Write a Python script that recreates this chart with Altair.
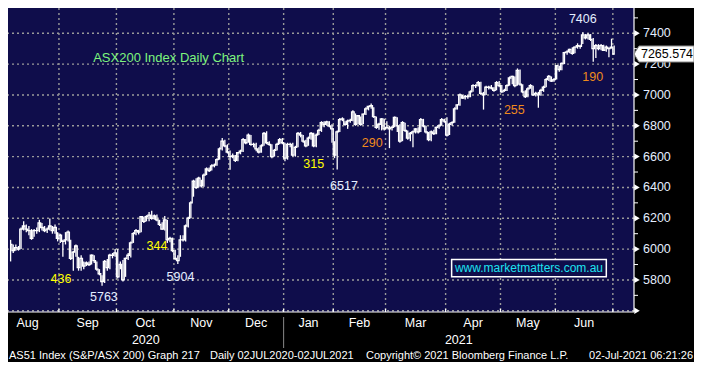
import altair as alt
import pandas as pd

# ---- daily OHLC bars (close, high, low), by month ----
months = ["Aug", "Sep", "Oct", "Nov", "Dec", "Jan", "Feb", "Mar", "Apr", "May", "Jun", "Jul"]

aug_c = [6030, 5990, 6010, 6000, 6130, 6150, 6130, 6120, 6070, 6120, 6120, 6170, 6140, 6120, 6130, 6150, 6120, 6140, 6070]
aug_h = [6060, 6030, 6030, 6020, 6140, 6180, 6160, 6150, 6130, 6130, 6140, 6190, 6170, 6150, 6140, 6199, 6150, 6160, 6110]
aug_l = [5920, 5975, 5990, 5990, 6000, 6120, 6110, 6090, 6060, 6080, 6100, 6110, 6120, 6110, 6105, 6120, 6100, 6100, 6050]

sep_c = [6090, 6050, 6060, 6110, 5940, 5980, 6020, 5880, 5940, 5890, 5910, 5900, 5960, 5925, 5870, 5840, 5790, 5920, 5880, 5960, 5960, 5975]
sep_h = [6100, 6060, 6110, 6120, 6060, 5990, 6030, 5950, 5960, 5920, 5920, 5920, 5965, 5960, 5920, 5870, 5830, 5930, 5935, 5970, 5975, 6000]
sep_l = [6040, 5950, 6030, 6050, 5930, 5860, 5950, 5860, 5860, 5870, 5890, 5890, 5900, 5910, 5860, 5830, 5763, 5780, 5860, 5870, 5940, 5950]

oct_c = [5820, 5900, 5800, 5940, 5960, 6040, 6100, 6120, 6110, 6210, 6180, 6210, 6220, 6200, 6215, 6190, 6160, 6130, 6190, 6060, 6070, 5990]
oct_h = [6000, 5920, 5930, 5945, 5975, 6050, 6110, 6130, 6125, 6215, 6210, 6220, 6240, 6248, 6225, 6225, 6190, 6175, 6215, 6190, 6080, 6075]
oct_l = [5810, 5870, 5790, 5820, 5930, 5945, 6040, 6090, 6095, 6110, 6170, 6180, 6180, 6190, 6190, 6180, 6150, 6125, 6120, 6040, 6045, 5980]

nov_c = [5940, 5925, 6060, 6060, 6150, 6200, 6300, 6440, 6400, 6460, 6410, 6480, 6520, 6510, 6540, 6545, 6580, 6650, 6700, 6670, 6630]
nov_h = [5995, 5960, 6090, 6090, 6160, 6210, 6310, 6450, 6460, 6470, 6450, 6490, 6530, 6530, 6550, 6555, 6590, 6660, 6720, 6710, 6680]
nov_l = [5930, 5904, 5950, 6050, 6050, 6140, 6200, 6340, 6390, 6400, 6400, 6405, 6480, 6500, 6510, 6530, 6540, 6580, 6640, 6660, 6620]

dec_c = [6600, 6605, 6575, 6625, 6635, 6710, 6690, 6740, 6680, 6680, 6650, 6630, 6670, 6750, 6690, 6680, 6600, 6640, 6680, 6710, 6690]
dec_h = [6640, 6620, 6610, 6630, 6645, 6720, 6715, 6750, 6740, 6690, 6690, 6660, 6680, 6760, 6765, 6700, 6680, 6650, 6690, 6720, 6720]
dec_l = [6515, 6590, 6565, 6570, 6615, 6630, 6680, 6690, 6670, 6660, 6635, 6620, 6625, 6670, 6680, 6670, 6590, 6600, 6640, 6680, 6680]

jan_c = [6590, 6680, 6680, 6610, 6660, 6750, 6740, 6700, 6670, 6720, 6750, 6670, 6740, 6770, 6820, 6810, 6825, 6800, 6780]
jan_h = [6690, 6690, 6690, 6690, 6670, 6760, 6760, 6740, 6710, 6730, 6760, 6755, 6750, 6780, 6830, 6830, 6832, 6830, 6810]
jan_l = [6570, 6580, 6660, 6600, 6600, 6660, 6725, 6690, 6660, 6670, 6710, 6660, 6660, 6740, 6760, 6790, 6800, 6790, 6690]

feb_c = [6610, 6760, 6840, 6845, 6810, 6830, 6835, 6890, 6810, 6865, 6810, 6875, 6910, 6925, 6930, 6860, 6790, 6810, 6845, 6780]
feb_h = [6700, 6770, 6850, 6855, 6830, 6840, 6845, 6900, 6880, 6870, 6860, 6880, 6920, 6930, 6945, 6920, 6860, 6820, 6850, 6845]
feb_l = [6590, 6517, 6760, 6830, 6800, 6780, 6820, 6830, 6800, 6810, 6800, 6810, 6870, 6900, 6910, 6850, 6780, 6775, 6770, 6770]

mar_c = [6790, 6780, 6790, 6855, 6800, 6700, 6820, 6770, 6720, 6750, 6760, 6780, 6760, 6840, 6800, 6760, 6710, 6760, 6750, 6790, 6800, 6840, 6830]
mar_h = [6830, 6800, 6800, 6860, 6855, 6810, 6830, 6820, 6770, 6760, 6770, 6785, 6790, 6850, 6845, 6800, 6760, 6770, 6775, 6795, 6810, 6850, 6845]
mar_l = [6780, 6655, 6770, 6790, 6760, 6690, 6700, 6760, 6710, 6700, 6660, 6750, 6750, 6760, 6790, 6750, 6700, 6700, 6740, 6745, 6780, 6800, 6820]

apr_c = [6740, 6810, 6820, 6910, 6935, 7000, 6980, 6990, 6990, 7020, 7060, 7060, 7080, 7010, 7000, 7050, 7050, 7045, 7030, 7080, 7060]
apr_h = [6855, 6820, 6830, 6920, 6940, 7010, 7000, 7000, 7000, 7030, 7070, 7070, 7090, 7085, 7020, 7060, 7060, 7065, 7050, 7090, 7090]
apr_l = [6730, 6740, 6800, 6820, 6905, 6930, 6975, 6970, 6975, 6985, 7020, 7045, 7055, 7000, 6905, 7000, 7035, 7035, 7020, 7030, 7050]

may_c = [7020, 7030, 7060, 7110, 7120, 7060, 7160, 7070, 7020, 6990, 7040, 7060, 7000, 7010, 7000, 7030, 7050, 7100, 7120, 7090, 7100]
may_h = [7065, 7040, 7070, 7120, 7125, 7120, 7172, 7165, 7070, 7030, 7050, 7070, 7060, 7020, 7020, 7040, 7060, 7110, 7130, 7120, 7110]
may_l = [7015, 7020, 7025, 7060, 7070, 7050, 7060, 7060, 7010, 6980, 6985, 7040, 6995, 6990, 6917, 6995, 7020, 7050, 7090, 7085, 7085]

jun_c = [7190, 7165, 7205, 7275, 7280, 7295, 7270, 7310, 7320, 7315, 7390, 7370, 7390, 7360, 7300, 7320, 7300, 7320, 7290, 7310, 7300, 7310]
jun_h = [7195, 7190, 7210, 7280, 7290, 7300, 7310, 7315, 7335, 7325, 7406, 7395, 7400, 7395, 7370, 7330, 7330, 7330, 7325, 7320, 7310, 7365]
jun_l = [7100, 7150, 7160, 7200, 7260, 7270, 7260, 7270, 7300, 7300, 7330, 7360, 7360, 7350, 7216, 7240, 7290, 7290, 7285, 7280, 7245, 7300]

jul_c = [7265.574]
jul_h = [7320]
jul_l = [7260]

closes = [aug_c, sep_c, oct_c, nov_c, dec_c, jan_c, feb_c, mar_c, apr_c, may_c, jun_c, jul_c]
highs = [aug_h, sep_h, oct_h, nov_h, dec_h, jan_h, feb_h, mar_h, apr_h, may_h, jun_h, jul_h]
lows = [aug_l, sep_l, oct_l, nov_l, dec_l, jan_l, feb_l, mar_l, apr_l, may_l, jun_l, jul_l]

# annotation labels (text, bar position, value level, colour)
ann_text = ["7406", "190", "255", "290", "315", "6517", "436", "5763", "344", "5904"]
ann_pos = [219, 222.8, 192.8, 138.4, 116, 127.6, 19.3, 35.7, 56, 65]
ann_val = [7490, 7118, 6901, 6690, 6553, 6411, 5809, 5691, 6020, 5821]
ann_col = ["#e4eeff", "#f08a1c", "#f08a1c", "#f08a1c", "#ffff00", "#e4eeff",
           "#ffff00", "#e4eeff", "#ffff00", "#e4eeff"]

y_ticks = list(range(5600, 7600, 100))
y_major = list(range(5600, 7600, 200))
y_labels = ["5800", "6000", "6200", "6400", "6600", "6800", "7000", "7200", "7400"]
last_price = 7265.574

footer_text = ["AS51 Index (S&P/ASX 200) Graph 217", "Daily 02JUL2020-02JUL2021",
               "Copyright\u00a9 2021 Bloomberg Finance L.P.", "02-Jul-2021 06:21:26"]
footer_px = [1, 202, 358, 685]

# ---- build tables ----
rows = []
starts = []
idx = 0
for c, h, l in zip(closes, highs, lows):
    assert len(c) == len(h) == len(l)
    starts.append(idx)
    for cc, hh, ll in zip(c, h, l):
        rows.append({"i": idx, "close": cc, "high": hh, "low": ll})
        idx += 1
bars = pd.DataFrame(rows)

bounds = [s - 0.5 for s in starts[1:]]
label_pos = [6.5] + [(a + b) / 2 for a, b in zip(bounds[:-1], bounds[1:])]
month_df = pd.DataFrame({"m": months[:11], "pos": label_pos})
bound_df = pd.DataFrame({"b": bounds})
jan_b = bounds[4]
year_df = pd.DataFrame({"y": ["2020", "2021"], "pos": [(-1 + jan_b) / 2, (jan_b + 238.6) / 2]})
ylab_df = pd.DataFrame({"t": y_labels, "v": [int(s) for s in y_labels]})

W, H = 626, 304
xs = alt.Scale(domain=[-1, 238.6], nice=False, zero=False)
ys = alt.Scale(domain=[5592, 7564], nice=False, zero=False)
FONT = "Liberation Sans"
GRID = dict(color="#9a9a9a", strokeDash=[2, 3], strokeWidth=1.4)

hgrid = alt.Chart(pd.DataFrame({"v": y_major})).mark_rule(**GRID).encode(
    y=alt.Y("v:Q", scale=ys, axis=None))
vgrid = alt.Chart(bound_df).mark_rule(**GRID).encode(
    x=alt.X("b:Q", scale=xs, axis=None))

hl = alt.Chart(bars).mark_rule(color="white", strokeWidth=1.3).encode(
    x=alt.X("i:Q", scale=xs, axis=None),
    y=alt.Y("low:Q", scale=ys, axis=None),
    y2="high:Q")

cl = alt.Chart(bars).mark_line(color="white", strokeWidth=1.3, interpolate="step").encode(
    x=alt.X("i:Q", scale=xs, axis=None),
    y=alt.Y("close:Q", scale=ys, axis=None))

# axis frame: right and bottom white lines
right_line = alt.Chart(pd.DataFrame({"a": [0]})).mark_rule(color="white", strokeWidth=1.2).encode(
    x=alt.value(W), y=alt.value(0), y2=alt.value(H))
bottom_line = alt.Chart(pd.DataFrame({"a": [0]})).mark_rule(color="white", strokeWidth=1.2).encode(
    x=alt.value(0), x2=alt.value(W), y=alt.value(H))

minor = alt.Chart(pd.DataFrame({"v": y_ticks})).mark_rule(color="white", strokeWidth=1).encode(
    x=alt.value(W), x2=alt.value(W + 4), y=alt.Y("v:Q", scale=ys, axis=None))

tri = alt.Chart(pd.DataFrame({"v": y_major})).mark_point(
    shape="triangle-right", filled=True, size=40, color="white", opacity=1).encode(
    x=alt.value(W + 3), y=alt.Y("v:Q", scale=ys, axis=None))

ylab = alt.Chart(ylab_df).mark_text(font=FONT, fontSize=12.5, color="#e4eeff", align="left").encode(
    x=alt.value(W + 9), y=alt.Y("v:Q", scale=ys, axis=None), text="t:N")

btick = alt.Chart(bound_df).mark_rule(color="white", strokeWidth=1.2).encode(
    x=alt.X("b:Q", scale=xs, axis=None), y=alt.value(H - 3), y2=alt.value(H))

ann = alt.Chart(pd.DataFrame({"t": ann_text, "p": ann_pos, "v": ann_val, "c": ann_col})).mark_text(
    font=FONT, fontSize=12.5).encode(
    x=alt.X("p:Q", scale=xs, axis=None), y=alt.Y("v:Q", scale=ys, axis=None),
    text="t:N", color=alt.Color("c:N", scale=None))

title = alt.Chart(pd.DataFrame({"t": ["ASX200 Index Daily Chart"], "p": [31.6], "v": [7242]})).mark_text(
    font=FONT, fontSize=13, align="left", color="#7df57d").encode(
    x=alt.X("p:Q", scale=xs, axis=None), y=alt.Y("v:Q", scale=ys, axis=None), text="t:N")

wm_box = alt.Chart(pd.DataFrame({"x1": [168.8], "x2": [228.0], "y1": [5933], "y2": [5821]})).mark_rect(
    fill="#0f0d4b", stroke="white", strokeWidth=1.5).encode(
    x=alt.X("x1:Q", scale=xs, axis=None), x2="x2:Q",
    y=alt.Y("y1:Q", scale=ys, axis=None), y2="y2:Q")
wm_txt = alt.Chart(pd.DataFrame({"t": ["www.marketmatters.com.au"], "p": [198.4], "v": [5877]})).mark_text(
    font=FONT, fontSize=12, color="#1ee3f0").encode(
    x=alt.X("p:Q", scale=xs, axis=None), y=alt.Y("v:Q", scale=ys, axis=None), text="t:N")

TAG = "M-1.033,0 L-0.867,-0.267 L0.967,-0.267 L0.967,0.267 L-0.867,0.267 Z"
last_df = pd.DataFrame({"v": [last_price], "t": ["7265.574"]})
tag = alt.Chart(last_df).mark_point(shape=TAG, size=3600, filled=True, fill="white",
                                     stroke="#8a8a8a", strokeWidth=1, opacity=1).encode(
    x=alt.value(W + 31), y=alt.Y("v:Q", scale=ys, axis=None))
tag_txt = alt.Chart(last_df).mark_text(font=FONT, fontSize=12.5, color="black").encode(
    x=alt.value(W + 33), y=alt.Y("v:Q", scale=ys, axis=None), text="t:N")

mlab = alt.Chart(month_df).mark_text(font=FONT, fontSize=12.5, color="white").encode(
    x=alt.X("pos:Q", scale=xs, axis=None), y=alt.value(H + 11), text="m:N")
yrlab = alt.Chart(year_df).mark_text(font=FONT, fontSize=12.5, color="white").encode(
    x=alt.X("pos:Q", scale=xs, axis=None), y=alt.value(H + 28), text="y:N")
ysep = alt.Chart(pd.DataFrame({"b": [jan_b]})).mark_rule(color="#8a8a8a", strokeWidth=1).encode(
    x=alt.X("b:Q", scale=xs, axis=None), y=alt.value(H + 5), y2=alt.value(H + 36))

foot = alt.Chart(pd.DataFrame({"t": footer_text[:3], "px": footer_px[:3]})).mark_text(
    font=FONT, fontSize=11, color="white", align="left").encode(
    x=alt.X("px:Q", scale=None), y=alt.value(H + 44), text="t:N")
foot_r = alt.Chart(pd.DataFrame({"t": footer_text[3:], "px": footer_px[3:]})).mark_text(
    font=FONT, fontSize=11, color="white", align="right").encode(
    x=alt.X("px:Q", scale=None), y=alt.value(H + 44), text="t:N")

chart = alt.layer(
    hgrid, vgrid, hl, cl, right_line, bottom_line, btick, minor, tri, ylab,
    ann, title, wm_box, wm_txt, tag, tag_txt,
    mlab, yrlab, ysep, foot, foot_r
).properties(
    width=W, height=H,
    autosize=alt.AutoSizeParams(type="none"),
    padding={"left": 0, "top": 0, "right": 60, "bottom": 50},
    background="black",
).configure_view(fill="#0f0d4b", stroke=None)

chart.save("out.html", embed_options={"renderer": "svg", "actions": False})
